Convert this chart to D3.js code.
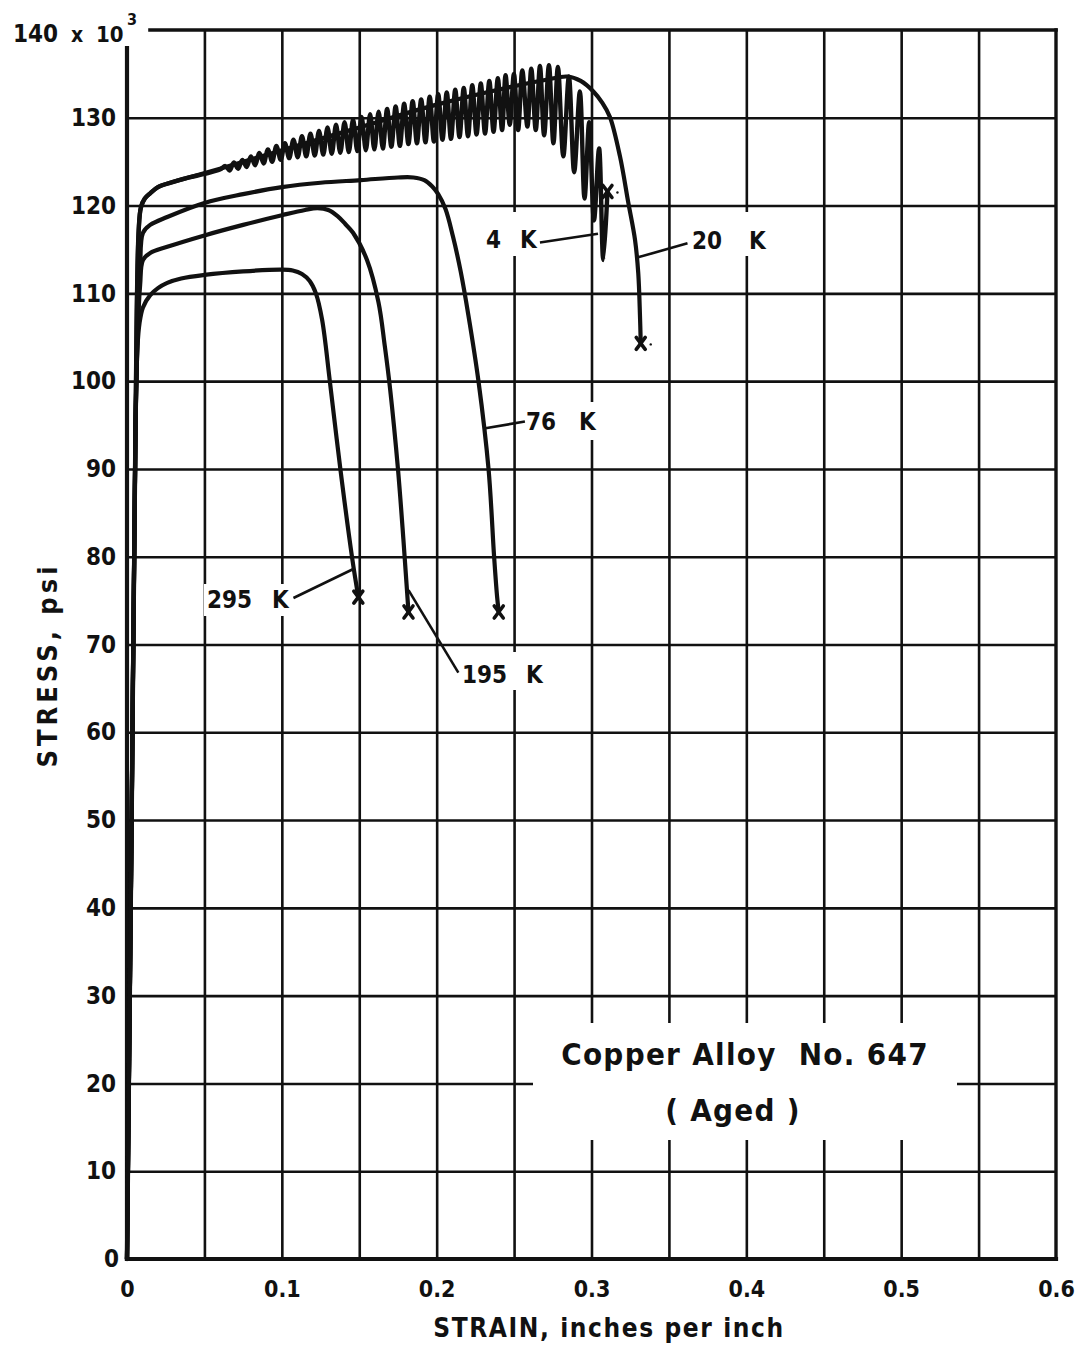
<!DOCTYPE html>
<html>
<head>
<meta charset="utf-8">
<script src="https://cdn.jsdelivr.net/npm/d3@7"></script>
<style>
  html, body { margin: 0; padding: 0; background: #fff; }
  svg { display: block; }
  text { font-family: "DejaVu Sans Condensed", "DejaVu Sans", sans-serif; font-weight: bold; fill: #111; }
</style>
</head>
<body>
<svg id="chart" width="1088" height="1352"></svg>
<script>
// ---------------- DATA ----------------
const strainTicks = [0, 0.1, 0.2, 0.3, 0.4, 0.5, 0.6];
const strainTickLabels = ["0", "0.1", "0.2", "0.3", "0.4", "0.5", "0.6"];
const stressTicks = [0, 10, 20, 30, 40, 50, 60, 70, 80, 90, 100, 110, 120, 130];
const strainGrid = [0.05, 0.1, 0.15, 0.2, 0.25, 0.3, 0.35, 0.4, 0.45, 0.5, 0.55];
const stressGrid = [10, 20, 30, 40, 50, 60, 70, 80, 90, 100, 110, 120, 130];

// [strain, stress (ksi)]
const curve295K = [[0,0],[0.003,50],[0.0055,95],[0.0068,104],[0.008,106.5],[0.0103,108.4],[0.015,109.8],[0.02,110.6],[0.026,111.2],[0.035,111.7],[0.05,112.1],[0.075,112.5],[0.1,112.7],[0.107,112.6],[0.113,112.2],[0.118,111.4],[0.122,110],[0.126,107],[0.131,100],[0.1378,90],[0.1453,80],[0.1494,75.4]];
const curve195K = [[0,0],[0.003,50],[0.0055,95],[0.007,106],[0.0085,111],[0.0103,113.8],[0.015,114.6],[0.026,115.3],[0.05,116.6],[0.075,117.8],[0.1,118.9],[0.115,119.5],[0.123,119.7],[0.13,119.5],[0.136,118.8],[0.141,117.9],[0.146,116.9],[0.155,113.8],[0.1624,109],[0.1665,104],[0.170,99],[0.175,90],[0.1785,82],[0.1805,77],[0.1818,73.7]];
const curve76K = [[0,0],[0.003,50],[0.0055,95],[0.007,107],[0.0085,113],[0.0103,116.9],[0.015,117.8],[0.026,118.7],[0.05,120.3],[0.075,121.3],[0.1,122.1],[0.125,122.6],[0.151,122.9],[0.175,123.2],[0.185,123.2],[0.192,122.9],[0.197,122.2],[0.201,121.3],[0.2057,119.6],[0.2105,116.5],[0.2155,112.5],[0.2205,107.5],[0.227,100],[0.2335,90],[0.2371,80],[0.2390,75.5],[0.2401,73.7]];
const curve20K = [[0,0],[0.003,50],[0.0055,95],[0.0075,117],[0.009,119.8],[0.0115,120.8],[0.015,121.4],[0.02,122.1],[0.03,122.7],[0.04,123.2],[0.06,124.2],[0.1,126.3],[0.15,128.9],[0.2,131.5],[0.25,133.6],[0.27,134.3],[0.2844,134.7],[0.293,134.2],[0.3012,133.0],[0.3070,131.7],[0.3119,130.1],[0.3184,125.6],[0.3238,120.3],[0.3281,116.1],[0.3302,112.3],[0.3313,107.5],[0.3318,104.3]];
const curve4K = [[0,0],[0.003,50],[0.0055,95],[0.0075,117],[0.009,119.8],[0.0115,120.8],[0.015,121.4],[0.02,122.1],[0.03,122.7],[0.04,123.2],[0.05,123.6],[0.06,124.1],
  [0.0635,124.5],[0.06625,124.0],[0.069,124.9],[0.07175,124.2],[0.0745,125.2],[0.07725,124.4],[0.080,125.6],[0.08275,124.6],
  [0.0855,126.0],[0.08825,124.8],[0.091,126.4],[0.09375,125.0],[0.0965,126.8],[0.09925,125.2],[0.102,127.1],[0.10475,125.4],
  [0.1075,127.5],[0.11025,125.5],[0.113,127.9],[0.11575,125.6],[0.1185,128.2],[0.12125,125.7],[0.124,128.5],[0.12675,125.8],
  [0.1295,128.9],[0.13225,125.9],[0.135,129.2],[0.13775,126.0],[0.1405,129.5],[0.14325,126.1],[0.146,129.8],[0.14875,126.2],
  [0.1515,130.1],[0.15425,126.3],[0.157,130.4],[0.15975,126.4],[0.1625,130.7],[0.16525,126.5],[0.168,131.0],[0.17075,126.7],
  [0.1735,131.3],[0.17625,126.8],[0.179,131.6],[0.18175,127.0],[0.1845,131.9],[0.18725,127.1],[0.190,132.1],[0.19275,127.2],
  [0.1955,132.4],[0.19825,127.3],[0.201,132.7],[0.20375,127.5],[0.2065,132.9],[0.20925,127.6],[0.212,133.2],[0.21475,127.8],
  [0.2175,133.4],[0.22025,127.9],[0.223,133.7],[0.22575,128.1],[0.2285,133.9],[0.23125,128.2],[0.234,134.2],[0.23675,128.4],
  [0.2395,134.5],[0.24225,128.6],[0.2445,134.85],[0.2472,129.2],[0.2499,135.0],[0.2526,128.6],[0.2553,135.4],[0.2586,129.0],
  [0.2611,135.6],[0.2640,128.6],[0.2667,135.9],[0.2694,128.0],[0.2725,136.0],[0.2754,127.1],[0.2783,135.8],[0.2818,125.6],
  [0.2854,134.7],[0.2888,123.8],[0.2925,133.0],[0.2955,120.8],[0.2985,129.5],[0.3016,118.3],[0.3049,126.5],[0.3076,113.8],[0.3103,121.6]];

const fractureNames = ["295K", "195K", "76K", "20K", "4K"];
const fracturePoints = [[0.1494,75.4],[0.1818,73.7],[0.2401,73.7],[0.3318,104.3],[0.3103,121.6]];

const labelNumbers = ["4", "20", "76", "295", "195"];

// ---------------- CHART ----------------
const svg = d3.select("#chart");
const x = d3.scaleLinear().domain([0, 0.6]).range([127, 1056]);
const y = d3.scaleLinear().domain([0, 140]).range([1259, 30]);
const ink = "#111";

// grid
const gx = svg.append("g").attr("transform", `translate(0,${y(0)})`)
  .call(d3.axisBottom(x).tickValues(strainGrid).tickSize(-(y(0) - y(140))).tickFormat(""));
gx.select(".domain").remove();
gx.selectAll("line").attr("stroke", ink).attr("stroke-width", 2.6);

const gy = svg.append("g").attr("transform", `translate(${x(0)},0)`)
  .call(d3.axisLeft(y).tickValues(stressGrid).tickSize(-(x(0.6) - x(0))).tickFormat(""));
gy.select(".domain").remove();
gy.selectAll("line").attr("stroke", ink).attr("stroke-width", 2.6);

// white patches behind labels (break grid lines)
const patches = [
  [483, 212, 58, 44],   // 4 K
  [689, 212, 80, 44],   // 20 K
  [522, 402, 80, 38],   // 76 K
  [204, 584, 90, 32],   // 295 K
  [460, 652, 88, 38],   // 195 K
  [533, 1023, 424, 117] // title box
];
svg.append("g").selectAll("rect").data(patches).join("rect")
  .attr("x", d => d[0]).attr("y", d => d[1]).attr("width", d => d[2]).attr("height", d => d[3])
  .attr("fill", "#fff");

// frame
const frame = svg.append("g").attr("stroke", ink).attr("stroke-linecap", "square");
frame.append("line").attr("x1", x(0)).attr("x2", x(0)).attr("y1", 48).attr("y2", y(0)).attr("stroke-width", 4.2);
frame.append("line").attr("x1", x(0)).attr("x2", x(0.6)).attr("y1", y(0)).attr("y2", y(0)).attr("stroke-width", 4.2);
frame.append("line").attr("x1", x(0.6)).attr("x2", x(0.6)).attr("y1", y(140)).attr("y2", y(0)).attr("stroke-width", 3.4);
frame.append("line").attr("x1", 150).attr("x2", x(0.6)).attr("y1", y(140)).attr("y2", y(140)).attr("stroke-width", 3.6);

// tick labels
const ax = svg.append("g").attr("transform", `translate(0,${y(0)})`)
  .call(d3.axisBottom(x).tickValues(strainTicks).tickSize(0).tickPadding(22)
    .tickFormat((d, i) => strainTickLabels[i]));
ax.select(".domain").remove();
ax.selectAll("text").attr("font-size", 23).attr("font-family", null);

const ay = svg.append("g").attr("transform", `translate(${x(0)},0)`)
  .call(d3.axisLeft(y).tickValues(stressTicks).tickSize(0).tickPadding(11));
ay.select(".domain").remove();
ay.selectAll("text").attr("font-size", 24).attr("font-family", null);
ay.selectAll(".tick").filter(d => d === 0).select("text").attr("dx", 3);

// 140 x 10^3
const topLabel = svg.append("g").attr("font-size", 24);
topLabel.append("text").attr("x", 13).attr("y", 42).text("140");
topLabel.append("text").attr("x", 71).attr("y", 42).attr("font-size", 21).text("x");
topLabel.append("text").attr("x", 96).attr("y", 42).attr("font-size", 22).text("10");
topLabel.append("text").attr("x", 127).attr("y", 25).attr("font-size", 16).text("3");

// axis titles
svg.append("text").attr("x", 609).attr("y", 1337).attr("text-anchor", "middle")
  .attr("font-size", 26).attr("letter-spacing", 1.6).text("STRAIN, inches per inch");
svg.append("text").attr("transform", `translate(57,665) rotate(-90)`).attr("text-anchor", "middle")
  .attr("font-size", 27).attr("letter-spacing", 4).text("STRESS, psi");

// curves
const line = d3.line().x(d => x(d[0])).y(d => y(d[1])).curve(d3.curveCatmullRom.alpha(0.5));
const curves = [curve295K, curve195K, curve76K, curve20K, curve4K];
svg.append("g").selectAll("path").data(curves).join("path")
  .attr("d", line).attr("fill", "none").attr("stroke", ink)
  .attr("stroke-width", (d, i) => i === 4 ? 4.4 : 4.2)
  .attr("stroke-linejoin", "round").attr("stroke-linecap", "round");

// fracture marks
const marks = svg.append("g").attr("stroke", ink).attr("stroke-width", 3.6).attr("stroke-linecap", "round");
fracturePoints.forEach(p => {
  const cx = x(p[0]), cy = y(p[1]), rx = 4.5, ry = 6;
  marks.append("line").attr("x1", cx - rx).attr("y1", cy - ry).attr("x2", cx + rx).attr("y2", cy + ry);
  marks.append("line").attr("x1", cx - rx).attr("y1", cy + ry).attr("x2", cx + rx).attr("y2", cy - ry);
});
marks.append("circle").attr("cx", x(0.3103) + 10).attr("cy", y(121.6) + 1).attr("r", 1.2).attr("fill", ink).attr("stroke", "none");
marks.append("circle").attr("cx", x(0.3318) + 10).attr("cy", y(104.3) + 1).attr("r", 1.2).attr("fill", ink).attr("stroke", "none");

// leader lines (strain/stress anchors)
const leaders = [
  [[0.2667, 115.8], [0.3042, 116.8]],  // 4 K
  [[0.3300, 114.1], [0.362, 115.7]],   // 20 K
  [[0.2305, 94.6], [0.2570, 95.4]],    // 76 K
  [[0.1075, 75.3], [0.1462, 78.6]],    // 295 K
  [[0.2140, 66.8], [0.1818, 76.2]]     // 195 K
];
svg.append("g").selectAll("line").data(leaders).join("line")
  .attr("x1", d => x(d[0][0])).attr("y1", d => y(d[0][1]))
  .attr("x2", d => x(d[1][0])).attr("y2", d => y(d[1][1]))
  .attr("stroke", ink).attr("stroke-width", 2.6);

// label texts: number and K placed separately
const labelPos = [[486, 520, 248], [692, 749, 249], [526, 579, 430], [207, 272, 608], [462, 526, 683]];
const lab = svg.append("g").attr("font-size", 24);
labelNumbers.forEach((n, i) => {
  lab.append("text").attr("x", labelPos[i][0]).attr("y", labelPos[i][2]).text(n);
  lab.append("text").attr("x", labelPos[i][1]).attr("y", labelPos[i][2]).text("K");
});

// title box text
svg.append("text").attr("x", 745).attr("y", 1065).attr("text-anchor", "middle")
  .attr("font-family", "'DejaVu Sans', sans-serif").attr("font-size", 31).attr("font-weight", "bold")
  .attr("letter-spacing", 1.3)
  .text("Copper Alloy  No. 647").style("white-space", "pre");
svg.append("text").attr("x", 733).attr("y", 1121).attr("text-anchor", "middle")
  .attr("font-family", "'DejaVu Sans', sans-serif").attr("font-size", 31).attr("font-weight", "bold")
  .attr("letter-spacing", 1.3)
  .text("( Aged )");
</script>
</body>
</html>
